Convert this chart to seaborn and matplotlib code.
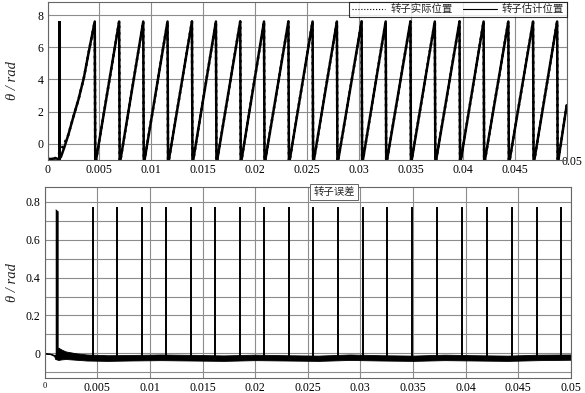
import matplotlib
matplotlib.use("Agg")
import matplotlib.pyplot as plt
from matplotlib.lines import Line2D
from matplotlib.transforms import ScaledTranslation
import pandas as pd
import seaborn as sns

# peak / spike times (s)
peak_t = [0.00455, 0.0069, 0.00922, 0.01156, 0.01391, 0.01622, 0.01856, 0.02085,
          0.0232, 0.02553, 0.02787, 0.03025, 0.03257, 0.03495, 0.0373, 0.03968,
          0.042, 0.04438, 0.04676, 0.04908]
peak_val = 7.6
trough_val = -1.3
end_val = 2.4

# start-up of the position curves
actual_start_t = [0, 0.0004, 0.0008, 0.0011, 0.0013, 0.0016, 0.002, 0.0025, 0.003, 0.0035, 0.004]
actual_start_v = [-0.95, -0.93, -0.87, -0.6, -0.35, 0.0, 0.55, 1.7, 2.8, 4.1, 5.8]
est_start_t = [0, 0.0004, 0.0008, 0.0011, 0.0013, 0.0016, 0.002, 0.0025, 0.003, 0.0035, 0.004]
est_start_v = [-0.95, -0.93, -0.9, -0.95, -0.8, -0.25, 0.55, 1.7, 2.8, 4.1, 5.8]
burst_t = [0.00097, 0.00127]
burst_lo, burst_hi = -1.0, 7.6

# rotor error
err_t = [0, 0.0005, 0.0009, 0.0010, 0.0013, 0.0016, 0.002, 0.003, 0.004, 0.006, 0.008,
         0.011, 0.014, 0.017, 0.02, 0.023, 0.026, 0.029, 0.032, 0.035, 0.038,
         0.041, 0.044, 0.047, 0.05]
err_hi = [0.002, -0.001, -0.008, -0.01, 0.03, 0.02, 0.01, 0.0, -0.006, -0.01, -0.009,
          -0.006, -0.008, -0.011, -0.007, -0.01, -0.012, -0.006, -0.01, -0.012, -0.007,
          -0.01, -0.012, -0.007, -0.006]
err_lo = [-0.002, -0.004, -0.014, -0.03, -0.035, -0.032, -0.03, -0.034, -0.038, -0.04, -0.038,
          -0.036, -0.038, -0.04, -0.036, -0.038, -0.04, -0.035, -0.038, -0.04, -0.036,
          -0.038, -0.04, -0.036, -0.034]
spike_val = 0.776
err_burst_t = [0.00100, 0.00128]
err_burst_hi = [0.765, 0.752]

xtick_vals = [0, 0.005, 0.01, 0.015, 0.02, 0.025, 0.03, 0.035, 0.04, 0.045, 0.05]
xtick_labels = ["0", "0.005", "0.01", "0.015", "0.02", "0.025", "0.03", "0.035", "0.04", "0.045", "0.05"]

legend_labels = ["转子实际位置", "转子估计位置"]
err_label = "转子误差"


def saw_frame(start_t, start_v):
    t = list(start_t)
    v = list(start_v)
    for p in peak_t:
        t += [p, p + 0.00005]
        v += [peak_val, trough_val]
    t.append(0.05)
    v.append(end_val)
    return pd.DataFrame({"t": t, "v": v})


sns.set_theme(style="whitegrid")
plt.rcParams["font.family"] = ["Liberation Serif", "Noto Sans CJK SC"]
plt.rcParams["axes.unicode_minus"] = False

fig = plt.figure(figsize=(5.85, 3.93), dpi=100)
ax1 = fig.add_axes([0.0812, 0.5929, 0.8875, 0.4028])
ax2 = fig.add_axes([0.0764, 0.0374, 0.8992, 0.4876])

# top: rotor position
est = saw_frame(est_start_t, est_start_v)
act = saw_frame(actual_start_t, actual_start_v)
sns.lineplot(data=est, x="t", y="v", ax=ax1, color="black", lw=1.8,
             estimator=None, sort=False)
sns.lineplot(data=act, x="t", y="v", ax=ax1, color="black", lw=1.8, ls=":",
             estimator=None, sort=False)
ax1.fill_between(burst_t, burst_lo, burst_hi, color="black", lw=0)
ax1.set_xlim(0, 0.05)
ax1.set_ylim(-1.0, 8.83)
ax1.set_yticks([0, 2, 4, 6, 8])

handles = [Line2D([], [], color="black", lw=0.8, ls=":"),
           Line2D([], [], color="black", lw=0.8)]
leg = ax1.legend(handles, legend_labels, loc="upper right", ncol=2, fontsize=7.5,
                 frameon=True, fancybox=False, borderaxespad=0, handlelength=3.2,
                 columnspacing=1.0, borderpad=0.25, handletextpad=0.5)
leg.get_frame().set_edgecolor("black")
leg.get_frame().set_linewidth(0.8)

# bottom: rotor error
ax2.fill_between(err_t, err_lo, err_hi, color="black", lw=0.6, edgecolor="black")
ax2.fill_between(err_burst_t, -0.03, err_burst_hi, color="black", lw=0)
ax2.vlines(peak_t, -0.035, spike_val, color="black", lw=1.4)
ax2.set_xlim(0, 0.05)
ax2.set_ylim(-0.132, 0.881)
ax2.set_yticks([-0.1, 0, 0.1, 0.2, 0.3, 0.4, 0.5, 0.6, 0.7, 0.8])
ax2.set_yticklabels(["", "0", "", "0.2", "", "0.4", "", "0.6", "", "0.8"])
ax2.text(0.55, 0.997, err_label, transform=ax2.transAxes, ha="center", va="top",
         fontsize=7.5,
         bbox=dict(boxstyle="square,pad=0.3", fc="white", ec="#666666", lw=0.7))

for ax in (ax1, ax2):
    ax.set_xticks(xtick_vals)
    ax.set_xticklabels(xtick_labels)
    ax.set_xlabel("")
    ax.set_ylabel("θ / rad", fontsize=10.5, style="italic")
    ax.grid(True, color="#8c8c8c", lw=0.8)
    ax.tick_params(length=0, labelsize=8.5, colors="black", pad=3)
    ax.set_facecolor("white")
    for s in ax.spines.values():
        s.set_color("#666666")
        s.set_linewidth(0.8)

ax1.yaxis.set_label_coords(-0.054, 0.5)
ax2.yaxis.set_label_coords(-0.048, 0.5)
ax2.get_xticklabels()[0].set_fontsize(6)
last = ax1.get_xticklabels()[-1]
last.set_y(0.05)
last.set_transform(last.get_transform() + ScaledTranslation(0.05, 0, fig.dpi_scale_trans))

fig.savefig("out.png", dpi=100, facecolor="white")
